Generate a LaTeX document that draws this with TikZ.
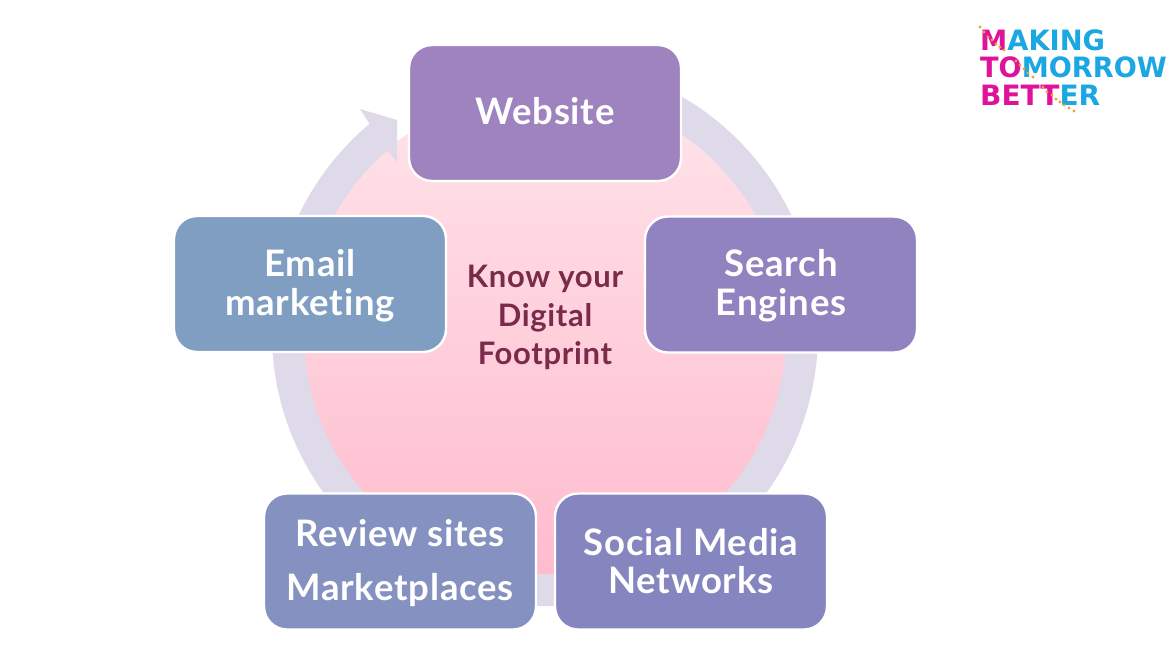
\documentclass[tikz,border=0pt]{standalone}
\usepackage{fontspec}
\setmainfont[Ligatures=NoCommon,LetterSpace=2.2]{Lato}
\newfontfamily\logofont{DejaVu Sans}
\newcommand{\nudge}[2]{\raisebox{#1}[\height][\depth]{#2}}
\definecolor{ringc}{HTML}{DEDAE9}
\definecolor{pinktop}{HTML}{FFE4EA}
\definecolor{pinkbot}{HTML}{FFBBCE}
\definecolor{cweb}{HTML}{9E83BF}
\definecolor{csearch}{HTML}{9083BF}
\definecolor{csocial}{HTML}{8585BF}
\definecolor{creview}{HTML}{8591C0}
\definecolor{cemail}{HTML}{7F9EC2}
\definecolor{ctext}{HTML}{7A2A4A}
\definecolor{lpink}{HTML}{E0119B}
\definecolor{lblue}{HTML}{1AA7E2}
\definecolor{lorange}{HTML}{EFA22E}
\tikzset{
  x=1pt,y=-1pt,
  card/.style={draw=white,line width=2.4pt,rounded corners=23pt,minimum width=272pt,minimum height=136pt,
    text=white,align=center,font=\fontsize{36.5}{39}\selectfont\bfseries,inner sep=0pt},
  centretext/.style={text=ctext,align=center,font=\fontsize{31}{38.5}\selectfont\bfseries,inner sep=0pt},
  logoline/.style={anchor=west,inner sep=0pt,font=\logofont\bfseries\fontsize{28}{28}\selectfont},
  speck/.style={fill=lorange,draw=none,circle,minimum size=3.2pt,inner sep=0pt}
}
\begin{document}
\begin{tikzpicture}
\useasboundingbox[fill=white] (0,0) rectangle (1174,651);
\coordinate (c) at (545,333);
\shade[top color=pinktop,bottom color=pinkbot] (c) circle[radius=241.8];
\fill[ringc] (c) ++(-80:273) arc[start angle=-80,end angle=230,radius=273]
  -- (360,109) -- (397,120) -- (397,162) -- (387,150)
  -- ([shift={(c)}]229.2:241.2) arc[start angle=229.2,end angle=-80,radius=241.2] -- cycle;
\node[card,fill=cweb]   (web)    at (545,113) {\nudge{1.5pt}{Website}};
\node[card,fill=csearch](search) at (781,284.5) {\nudge{-1.5pt}{Search}\\\nudge{-1.5pt}{Engines}};
\node[card,fill=cemail] (email)  at (310,284) {\nudge{-2pt}{Email}\\\nudge{-2pt}{marketing}};
\node[card,fill=creview](review) at (400,561.5) {\nudge{-2pt}{Review sites}\\[15pt]\nudge{-2pt}{Marketplaces}};
\node[card,fill=csocial](social) at (691,561.5) {\nudge{-0.5pt}{Social Media}\\\nudge{0.5pt}{Networks}};
\node[centretext] (know) at (545,317.5) {Know your\\Digital\\Footprint};
\node[logoline] (l1) at (980,40) {\scalebox{.975}[1]{\textcolor{lpink}{M}\textcolor{lblue}{AKING}}};
\node[logoline] (l2) at (980,67.5) {\scalebox{.97}[1]{\textcolor{lpink}{TO}\textcolor{lblue}{MORROW}}};
\node[logoline] (l3) at (980,95.5) {\scalebox{1.0}[1]{\textcolor{lpink}{BETT}\textcolor{lblue}{ER}}};
\foreach \a/\b in {980/27,984/32,988/37,992/40,996/44,1000/47,1004/50,
  1016/61,1020/65,1024/69,1028/73,1033/77,
  1043/87,1047/92,1052/95,1056/99,1060/102,1064/105,1069/108,1074/111}
  \node[speck] at (\a,\b) {};
\end{tikzpicture}
\end{document}
